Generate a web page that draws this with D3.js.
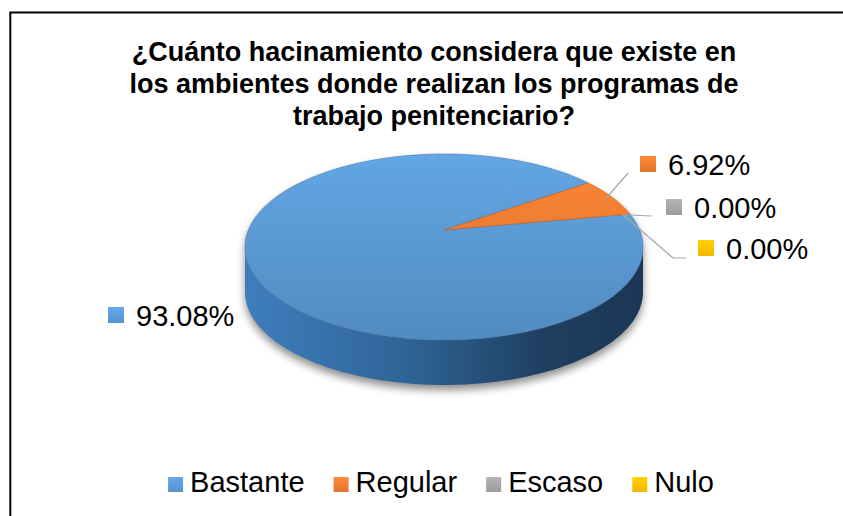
<!DOCTYPE html>
<html>
<head>
<meta charset="utf-8">
<script src="https://cdn.jsdelivr.net/npm/d3@7"></script>
<style>
    html, body { margin: 0; padding: 0; background: #fff; }
    text { font-family: "Liberation Sans", Arial, sans-serif; fill: #000; }
</style>
</head>
<body>
<svg id="chart" width="843" height="516"></svg>
<script>
const TITLE_LINES = [
    '¿Cuánto hacinamiento considera que existe en',
    'los ambientes donde realizan los programas de',
    'trabajo penitenciario?'
];
const categories = ['Bastante', 'Regular', 'Escaso', 'Nulo'];
const percentages = [93.08, 6.92, 0.00, 0.00];
const sliceColours = ['#5b9bd5', '#ed7d31', '#a5a5a5', '#ffc000'];

const WIDTH = 843;
const HEIGHT = 516;

// 3D pie geometry (top ellipse, perspective, depth)
const CX = 444;
const CY = 247;
const RX = 199;
const RY = 93;
const DEPTH = 45;
const PERSPECTIVE = -0.183;
const ROTATION = 79.5 * Math.PI / 180;

// where each data label sits (marker top-left) and its leader bend points
const labelLayout = [
    { x: 108, y: 307, leader: [] },
    { x: 640, y: 156, leader: [[628, 173]] },
    { x: 666, y: 199, leader: [[652, 216]] },
    { x: 698, y: 240, leader: [[673, 258], [686, 258]] }
];

const svg = d3.select('#chart');
const defs = svg.append('defs');

svg.append('rect')
    .attr('x', 0).attr('y', 0)
    .attr('width', WIDTH).attr('height', HEIGHT)
    .attr('fill', '#fff');

svg.append('rect')
    .attr('x', 10.3).attr('y', 12.5)
    .attr('width', WIDTH + 20).attr('height', HEIGHT + 20)
    .attr('fill', 'none')
    .attr('stroke', '#000')
    .attr('stroke-width', 2);

// title
svg.append('text')
    .attr('text-anchor', 'middle')
    .attr('font-size', 27)
    .attr('font-weight', 'bold')
    .selectAll('tspan')
    .data(TITLE_LINES)
    .join('tspan')
    .attr('x', 434)
    .attr('y', (d, i) => 61 + i * 32)
    .text(d => d);

// projection of a point on the pie rim (angle a, clockwise from 12 o'clock)
const squeeze = Math.sqrt(1 - PERSPECTIVE * PERSPECTIVE);
const project = (a, r = 1, dy = 0) => {
    const u = Math.sin(a) * r;
    const v = -Math.cos(a) * r;
    const d = 1 + PERSPECTIVE * v;
    return [CX + RX * u * squeeze / d, CY + RY * (v + PERSPECTIVE) / d + dy];
};
const apex = project(0, 0);

const arcPoints = (a0, a1, dy = 0) => {
    const n = Math.max(2, Math.ceil(Math.abs(a1 - a0) / 0.02));
    return d3.range(n + 1).map(i => project(a0 + (a1 - a0) * i / n, 1, dy));
};

const pie = d3.pie()
    .sort(null)
    .startAngle(ROTATION)
    .endAngle(ROTATION + 2 * Math.PI);
const arcs = pie(percentages);

// visible front wall runs between the two silhouette points
const frontStart = Math.acos(PERSPECTIVE);
const frontEnd = 2 * Math.PI - frontStart;

// gradients
const topGradient = (id, colour) => {
    const c = d3.color(colour);
    const g = defs.append('linearGradient').attr('id', id)
        .attr('gradientUnits', 'userSpaceOnUse')
        .attr('x1', 0).attr('y1', CY - RY).attr('x2', 0).attr('y2', CY + RY);
    g.append('stop').attr('offset', 0).attr('stop-color', c.brighter(0.2));
    g.append('stop').attr('offset', 1).attr('stop-color', c.darker(0.3));
};
sliceColours.forEach((c, i) => topGradient(`top${i}`, c));

const sideGradient = defs.append('linearGradient').attr('id', 'side')
    .attr('gradientUnits', 'userSpaceOnUse')
    .attr('x1', CX - RX).attr('y1', 0).attr('x2', CX + RX).attr('y2', 0);
[[0, '#3f7dbd'], [0.4, '#2f6597'], [0.75, '#1f3f61'], [1, '#1c3756']].forEach(([o, c]) =>
    sideGradient.append('stop').attr('offset', o).attr('stop-color', c));

sliceColours.forEach((colour, i) => {
    const c = d3.color(colour);
    const g = defs.append('linearGradient').attr('id', `mark${i}`)
        .attr('x1', 0).attr('y1', 0).attr('x2', 0).attr('y2', 1);
    g.append('stop').attr('offset', 0).attr('stop-color', c.brighter(0.25));
    g.append('stop').attr('offset', 1).attr('stop-color', c.darker(0.15));
});

const blur = defs.append('filter').attr('id', 'shadow')
    .attr('x', -0.2).attr('y', -0.2).attr('width', 1.4).attr('height', 1.4);
blur.append('feGaussianBlur').attr('stdDeviation', 4);

const line = d3.line();

// shadow under the pie
const silhouette = arcPoints(frontStart, frontEnd, DEPTH)
    .concat(arcPoints(frontEnd, frontStart + 2 * Math.PI));
svg.append('path')
    .attr('d', line(silhouette) + 'Z')
    .attr('transform', 'translate(0,5)')
    .attr('fill', '#000')
    .attr('opacity', 0.45)
    .attr('filter', 'url(#shadow)');

// side walls (front part only)
const pieGroup = svg.append('g');
arcs.forEach((d, i) => {
    [0, 2 * Math.PI].forEach(shift => {
        const a0 = Math.max(d.startAngle, frontStart + shift);
        const a1 = Math.min(d.endAngle, frontEnd + shift);
        if (a1 <= a0) return;
        const pts = arcPoints(a0, a1).concat(arcPoints(a1, a0, DEPTH));
        pieGroup.append('path')
            .attr('d', line(pts) + 'Z')
            .attr('fill', i === 0 ? 'url(#side)' : d3.color(sliceColours[i]).darker(1.2));
    });
});

// top faces
arcs.forEach((d, i) => {
    if (d.endAngle - d.startAngle <= 0) return;
    const pts = [apex].concat(arcPoints(d.startAngle, d.endAngle));
    pieGroup.append('path')
        .attr('d', line(pts) + 'Z')
        .attr('fill', `url(#top${i})`)
        .attr('stroke', d3.color(sliceColours[i]).darker(0.6))
        .attr('stroke-width', 0.6)
        .attr('stroke-linejoin', 'round');
});

// data labels
const LABEL_SIZE = 29;
const labels = svg.append('g');
arcs.forEach((d, i) => {
    const pos = labelLayout[i];
    if (pos.leader.length) {
        const start = project((d.startAngle + d.endAngle) / 2, 0.96);
        labels.append('path')
            .attr('d', line([start].concat(pos.leader)))
            .attr('fill', 'none')
            .attr('stroke', '#a6a6a6')
            .attr('stroke-width', 1.2);
    }
    labels.append('rect')
        .attr('x', pos.x).attr('y', pos.y)
        .attr('width', 16).attr('height', 16)
        .attr('fill', `url(#mark${i})`);
    labels.append('text')
        .attr('x', pos.x + 28)
        .attr('y', pos.y + 19)
        .attr('font-size', LABEL_SIZE)
        .text(d3.format('.2f')(d.data) + '%');
});

// legend
const LEGEND_SIZE = 29;
const legend = svg.append('g');
const items = legend.selectAll('g')
    .data(categories)
    .join('g');
items.append('rect')
    .attr('y', 477)
    .attr('width', 15).attr('height', 15)
    .attr('fill', (d, i) => `url(#mark${i})`);
items.append('text')
    .attr('x', 22)
    .attr('y', 492)
    .attr('font-size', LEGEND_SIZE)
    .text(d => d);

let offset = 0;
items.each(function () {
    const w = d3.select(this).select('text').node().getComputedTextLength();
    d3.select(this).attr('data-x', offset);
    offset += 22 + w + 29;
});
const legendWidth = offset - 29;
const legendLeft = 441 - legendWidth / 2;
items.attr('transform', function () {
    return `translate(${legendLeft + (+d3.select(this).attr('data-x'))},0)`;
});
</script>
</body>
</html>
